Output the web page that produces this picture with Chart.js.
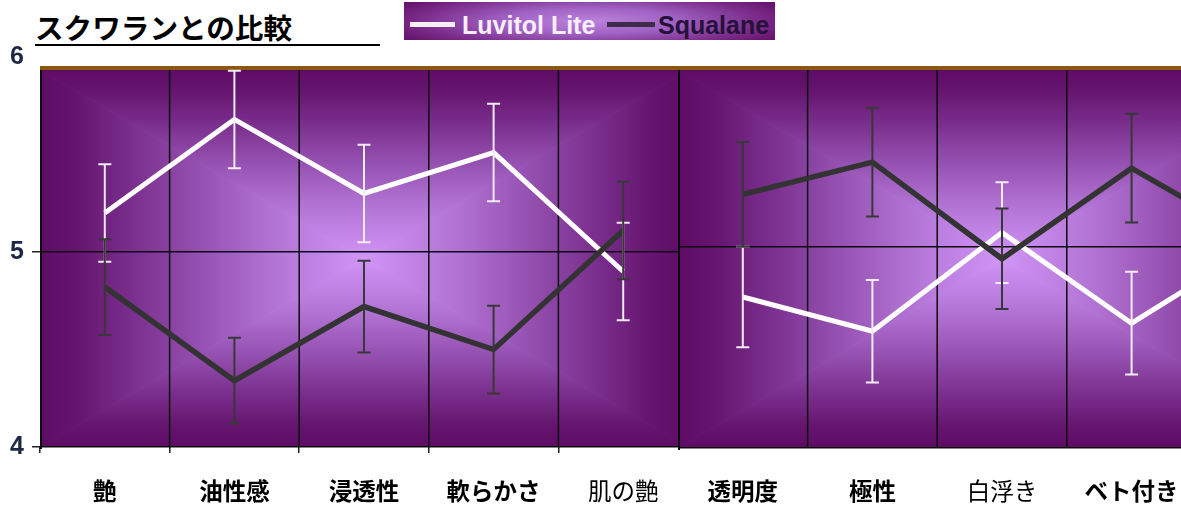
<!DOCTYPE html>
<html><head><meta charset="utf-8">
<script src="https://cdn.jsdelivr.net/npm/chart.js@4.4.0/dist/chart.umd.min.js"></script>
<style>
html,body{margin:0;padding:0;width:1181px;height:506px;overflow:hidden;background:#fff;}
#title{position:absolute;left:35px;top:9px;width:345px;height:35px;border-bottom:2px solid #000;
  font-family:"Noto Sans CJK JP",sans-serif;font-weight:bold;font-size:28.6px;line-height:35px;color:#000;white-space:nowrap;}
#legend{position:absolute;left:404px;top:2px;width:371px;height:38px;
  background:radial-gradient(ellipse 58% 85% at 50% 50%, #bb82dc 0%, #a062c4 40%, #7a2a88 80%, #66146c 100%);}
#legend .ln{position:absolute;height:5px;top:20px;}
#legend .tx{position:absolute;top:11px;font-family:"Liberation Sans",Arial,sans-serif;font-weight:bold;font-size:25px;line-height:25px;white-space:nowrap;}
#left{position:absolute;left:0;top:0;width:688px;height:506px;z-index:1;}
#right{position:absolute;left:678px;top:0;width:648px;height:506px;z-index:2;}
</style></head><body>
<div id="title">スクワランとの比較</div>
<div id="legend">
  <div class="ln" style="left:6px;width:45px;background:#f6eef8;"></div>
  <div class="tx" style="left:58px;color:#f8eefa;">Luvitol Lite</div>
  <div class="ln" style="left:203px;width:48px;background:#3c2c48;"></div>
  <div class="tx" style="left:254px;color:#24123a;">Squalane</div>
</div>
<div id="left"><canvas id="c1"></canvas></div>
<div id="right"><canvas id="c2"></canvas></div>
<script>
// ---- data ----
const leftCategories = ['艶', '油性感', '浸透性', '軟らかさ', '肌の艶'];
const leftLuvitol    = [5.20, 5.68, 5.30, 5.51, 4.90];
const leftLuvitolErr = [0.25, 0.25, 0.25, 0.25, 0.25];
const leftSqualane   = [4.82, 4.34, 4.72, 4.50, 5.11];
const leftSqualaneErr= [0.245, 0.22, 0.235, 0.225, 0.25];

const rightCategories = ['透明度', '極性', '白浮き', 'ベト付き', ''];
const rightLuvitol    = [4.75, 4.58, 5.07, 4.62, 5.02];
const rightLuvitolErr = [0.25, 0.255, 0.25, 0.255, null];
const rightSqualane   = [5.26, 5.42, 4.94, 5.39, 5.02];
const rightSqualaneErr= [0.26, 0.27, 0.25, 0.27, null];

const yMin = 4, yMax = 6, yStep = 1;
const seriesNames = ['Luvitol Lite', 'Squalane'];

// ---- styling ----
const leftBold  = [true, true, true, true, false];
const rightBold = [true, true, false, true, true];
const jpFont = '"Noto Sans CJK JP", sans-serif';
const gradStops = [[0,'#5e0b64'],[0.12,'#661670'],[0.3,'#7c3190'],[0.5,'#9652b2'],[0.72,'#b274d4'],[0.9,'#c688ea'],[1,'#d096f6']];
const PANEL_TOP = 70;

const panelPlugin = {
  id: 'panel',
  beforeDraw(chart) {
    const {ctx, chartArea: a} = chart;
    const L = a.left, R = a.right, T = PANEL_TOP, B = a.bottom;
    const cx = (L + R) / 2, cy = (T + B) / 2;
    ctx.save();
    ctx.beginPath(); ctx.rect(L, T, R - L, B - T); ctx.clip();
    const tri = (p1, p2, x0, y0) => {
      const g = ctx.createLinearGradient(x0, y0, cx, cy);
      gradStops.forEach(s => g.addColorStop(s[0], s[1]));
      ctx.beginPath(); ctx.moveTo(p1[0], p1[1]); ctx.lineTo(p2[0], p2[1]); ctx.lineTo(cx, cy); ctx.closePath();
      ctx.fillStyle = g; ctx.fill();
      ctx.strokeStyle = g; ctx.lineWidth = 1; ctx.stroke();
    };
    tri([L, T], [L, B], L, cy);
    tri([R, T], [R, B], R, cy);
    tri([L, T], [R, T], cx, T);
    tri([L, B], [R, B], cx, B);
    ctx.restore();
    ctx.save();
    ctx.fillStyle = '#8a5810';
    ctx.fillRect(L, T - 4, R - L, 4);
    ctx.restore();
  },
  beforeDatasetsDraw(chart) {
    const {ctx, chartArea: a} = chart;
    const xs = chart.scales.x;
    ctx.save();
    ctx.strokeStyle = '#0c0c0c';
    ctx.lineWidth = 1.5;
    for (let i = 1; i < xs.ticks.length; i++) {
      const px = (xs.getPixelForTick(i - 1) + xs.getPixelForTick(i)) / 2;
      ctx.beginPath(); ctx.moveTo(px, PANEL_TOP); ctx.lineTo(px, a.bottom); ctx.stroke();
    }
    ctx.lineWidth = 2;
    ctx.beginPath(); ctx.moveTo(a.left + 1, PANEL_TOP); ctx.lineTo(a.left + 1, a.bottom + 2); ctx.stroke();
    ctx.restore();
  }
};

const errorBarPlugin = {
  id: 'errbars',
  afterDatasetsDraw(chart) {
    const {ctx} = chart;
    const ys = chart.scales.y;
    ctx.save();
    [0, 1].forEach(di => {
      const ds = chart.data.datasets[di];
      const meta = chart.getDatasetMeta(di);
      ctx.strokeStyle = ds.errColor;
      ctx.lineWidth = 2;
      ds.data.forEach((v, j) => {
        const e = ds.errors[j];
        if (e == null) return;
        const x = meta.data[j].x;
        const y1 = ys.getPixelForValue(v + e), y2 = ys.getPixelForValue(v - e);
        ctx.beginPath();
        ctx.moveTo(x, y1); ctx.lineTo(x, y2);
        ctx.moveTo(x - 6.5, y1); ctx.lineTo(x + 6.5, y1);
        ctx.moveTo(x - 6.5, y2); ctx.lineTo(x + 6.5, y2);
        ctx.stroke();
      });
    });
    ctx.restore();
  }
};

function makeChart(canvasId, cats, luv, luvErr, sq, sqErr, bold, isLeft) {
  const pxPerUnit = isLeft ? 195 : 201.3;
  const bottom = isLeft ? 447 : 448;
  return new Chart(document.getElementById(canvasId), {
    type: 'line',
    data: {
      labels: cats,
      datasets: [
        {label: seriesNames[0], data: luv, errors: luvErr, errColor: '#f3ebf6',
         borderColor: '#ffffff', borderWidth: 5, pointRadius: 0, tension: 0, fill: false, order: 1},
        {label: seriesNames[1], data: sq, errors: sqErr, errColor: '#383838',
         borderColor: '#333333', borderWidth: 5.5, pointRadius: 0, tension: 0, fill: false, order: 0}
      ]
    },
    options: {
      responsive: true, maintainAspectRatio: false, animation: false,
      layout: {padding: {top: bottom - (yMax - yMin) * pxPerUnit, left: 0, right: 0, bottom: 0}},
      plugins: {legend: {display: false}, tooltip: {enabled: false}},
      scales: {
        x: {
          offset: true,
          afterFit: s => { s.height = 506 - bottom; },
          border: {display: false},
          grid: isLeft ? {offset: true, drawOnChartArea: false, color: '#222',
                          tickColor: c => c.tick ? '#222' : 'transparent', tickLength: 6, lineWidth: 1.5}
                       : {display: false, drawTicks: false},
          ticks: {
            autoSkip: false, maxRotation: 0, color: '#000', padding: isLeft ? 24 : 29,
            font: c => ({family: jpFont, size: 23.5, weight: bold[c.index] ? 'bold' : 'normal'})
          }
        },
        y: {
          min: yMin, max: yMax,
          afterFit: s => { s.width = isLeft ? 40 : 0; },
          border: {display: false},
          grid: {
            color: c => (c.tick && (c.tick.value === 5 || c.tick.value === 4)) ? '#0c0c0c' : 'transparent',
            tickColor: c => (c.tick && c.tick.value === 6) ? 'transparent' : '#222',
            lineWidth: 1.5, tickLength: 8, drawTicks: isLeft
          },
          ticks: {
            display: isLeft, stepSize: yStep, padding: 8, color: '#1d2744',
            font: {family: '"Liberation Sans", Arial, sans-serif', size: 25, weight: 'bold'}
          }
        }
      }
    },
    plugins: [panelPlugin, errorBarPlugin]
  });
}

makeChart('c1', leftCategories, leftLuvitol, leftLuvitolErr, leftSqualane, leftSqualaneErr, leftBold, true);
makeChart('c2', rightCategories, rightLuvitol, rightLuvitolErr, rightSqualane, rightSqualaneErr, rightBold, false);
</script>
</body></html>
